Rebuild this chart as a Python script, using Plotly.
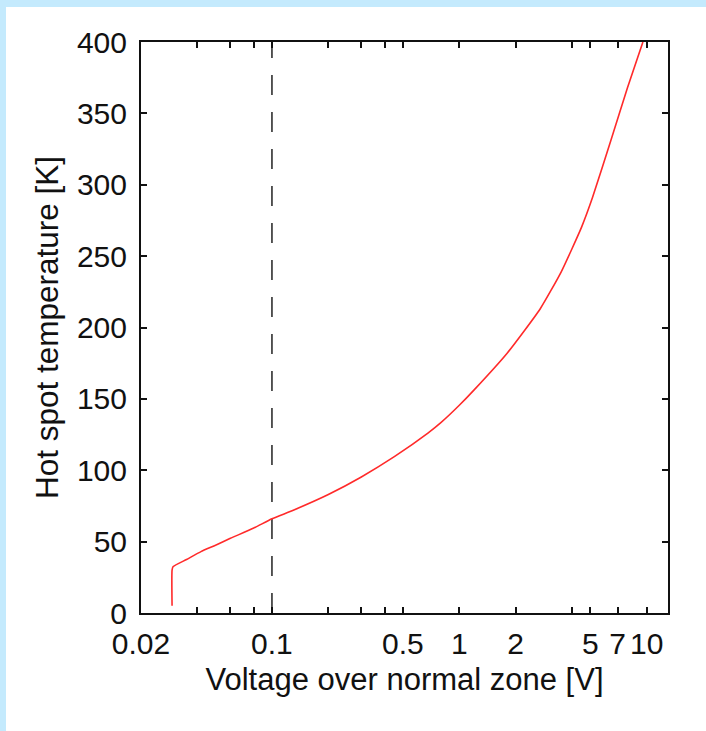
import numpy as np
import plotly.graph_objects as go

# Data
voltage = [0.0293, 0.0293, 0.0297, 0.035, 0.0418, 0.05, 0.06, 0.08, 0.1,
           0.13, 0.2, 0.3, 0.45, 0.68, 0.8, 1.0, 1.2, 1.8, 2.7, 3.5,
           4.5, 5.14, 6.44, 7.9, 9.55]
temperature = [5, 30, 32.5, 37.5, 43, 47.5, 52.3, 59.5, 66,
               72, 83, 95.3, 109.5, 126, 133.5, 145.5, 156.3, 182, 213, 239,
               270.5, 291, 331, 368, 400]

threshold_x = [0.1, 0.1]
threshold_y = [0, 400]

x_tickvals = [0.02, 0.04, 0.06, 0.08, 0.1, 0.2, 0.3, 0.4, 0.5, 1, 2, 4, 5, 7, 10]
x_ticktext = ["0.02", "", "", "", "0.1", "", "", "", "0.5", "1", "2", "", "5", "7", "10"]
y_tickvals = [0, 50, 100, 150, 200, 250, 300, 350, 400]

W, H = 706, 731
L, R, T, B = 141, 38, 42, 118
PW, PH = W - L - R, H - T - B

def px_x(p):
    return (p - L) / PW

def px_y(p):
    return (H - B - p) / PH

FONT = "Liberation Sans, Arial, Helvetica, sans-serif"

fig = go.Figure()
fig.add_trace(go.Scatter(x=threshold_x, y=threshold_y, mode="lines",
                         line=dict(color="#222222", width=1.5, dash="20px,17px"),
                         showlegend=False, hoverinfo="skip"))
fig.add_trace(go.Scatter(x=voltage, y=temperature, mode="lines",
                         line=dict(color="#ff2a2a", width=1.6, shape="spline", smoothing=0.5),
                         showlegend=False))

fig.update_layout(
    width=W, height=H,
    margin=dict(l=L, r=R, t=T, b=B),
    paper_bgcolor="#c4eafd",
    plot_bgcolor="white",
    font=dict(family=FONT, size=30, color="#111111"),
    shapes=[dict(type="rect", xref="paper", yref="paper",
                 x0=px_x(6), x1=px_x(W + 2), y0=px_y(7), y1=px_y(H + 2),
                 fillcolor="white", line=dict(width=0), layer="below")],
    xaxis=dict(type="log", range=[np.log10(0.02), np.log10(13.0)],
               tickmode="array", tickvals=x_tickvals, ticktext=x_ticktext,
               ticks="inside", ticklen=6, tickwidth=1.5, tickcolor="#111111",
               showline=True, linecolor="#111111", linewidth=2, mirror="ticks",
               showgrid=False, zeroline=False, ticklabelstandoff=3,
               title=dict(text="Voltage over normal zone [V]", standoff=9,
                          font=dict(size=31))),
    yaxis=dict(range=[0, 400], tickmode="array", tickvals=y_tickvals,
               ticks="inside", ticklen=6, tickwidth=1.5, tickcolor="#111111",
               showline=True, linecolor="#111111", linewidth=2, mirror="ticks",
               showgrid=False, zeroline=False, ticklabelstandoff=6,
               title=dict(text="Hot spot temperature [K]", standoff=9,
                          font=dict(size=31.5))),
)

fig.write_html("out.html")
